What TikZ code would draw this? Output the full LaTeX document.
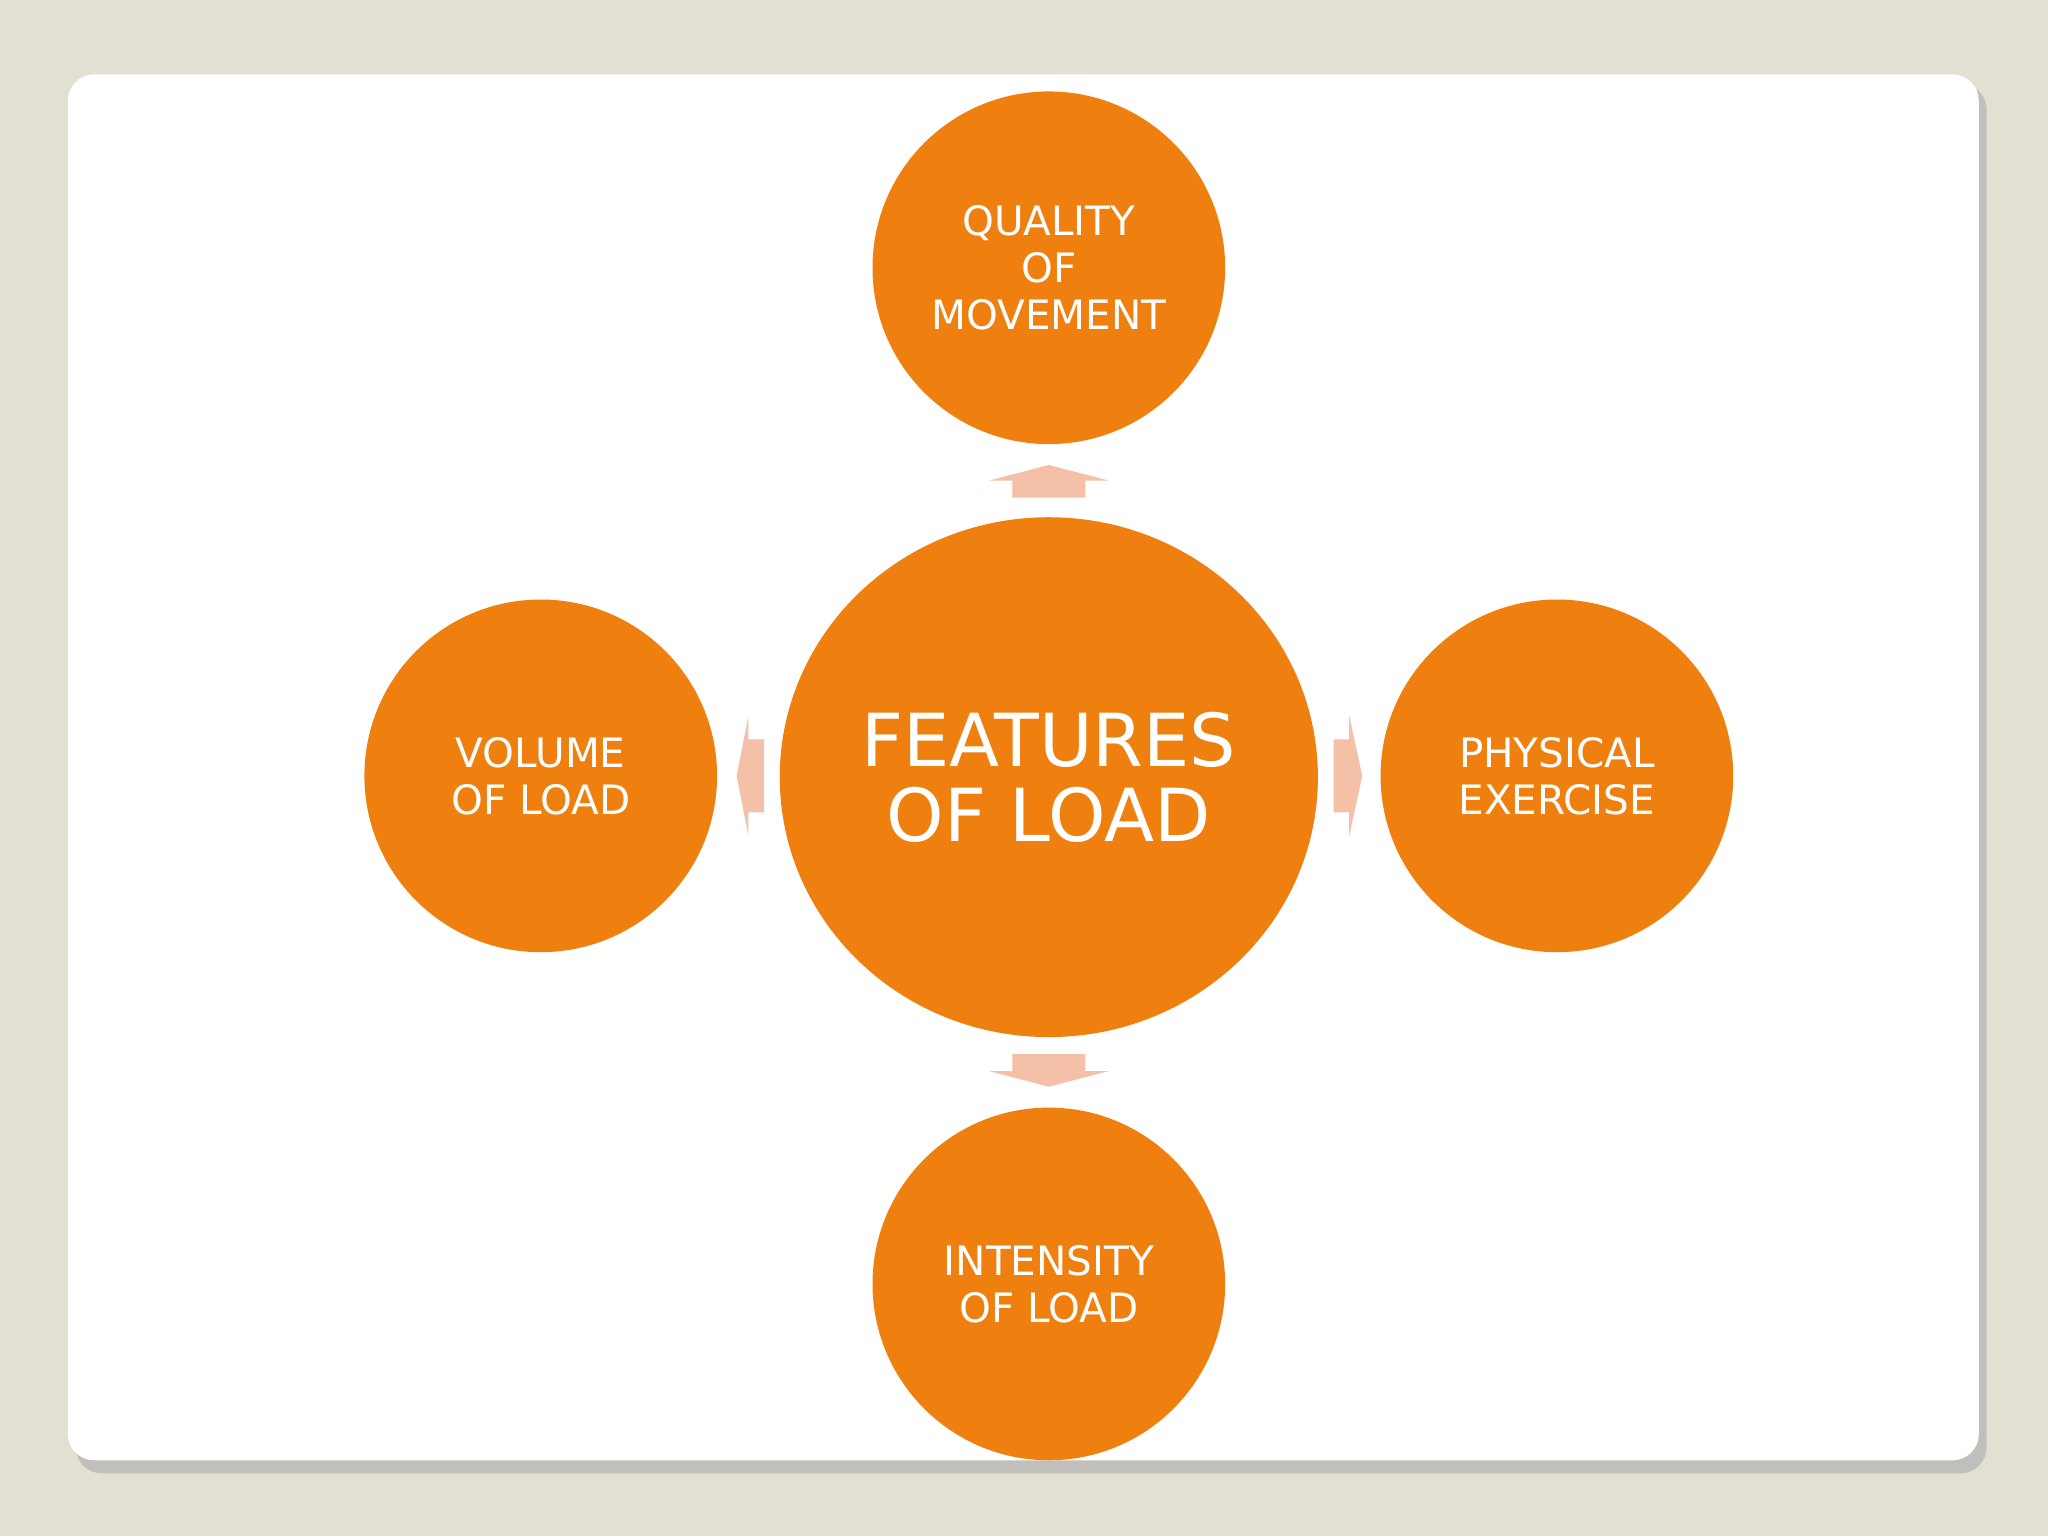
\documentclass[tikz,border=0pt]{standalone}
\usepackage{fontspec}
\setmainfont{DejaVu Sans}
\begin{document}
\begin{tikzpicture}[x=1pt,y=-1pt,
  orb/.style={fill=orange1,draw=none},
  lab/.style={text=white,align=center,font=\fontsize{31}{36}\selectfont},
  arr/.style={fill=salmon1,draw=none}]
\definecolor{bg}{HTML}{E2DFD3}
\definecolor{orange1}{HTML}{EF7F0E}
\definecolor{salmon1}{HTML}{F4C0A8}
\fill[bg] (0,0) rectangle (1568,1176);
\useasboundingbox (0,0) rectangle (1568,1176);
\fill[gray!60,opacity=0.7] (58,64) [rounded corners=20] rectangle (1521,1128);
\fill[white,rounded corners=20] (52,57) rectangle (1515,1118);
% arrows
\fill[arr] (775,381) -- (775,368) -- (757,368) -- (803,356) -- (849,368) -- (831,368) -- (831,381) -- cycle;
\fill[arr] (775,807) -- (775,820) -- (757,820) -- (803,832) -- (849,820) -- (831,820) -- (831,807) -- cycle;
\fill[arr] (585,566) -- (573,566) -- (573,548) -- (564,594) -- (573,640) -- (573,622) -- (585,622) -- cycle;
\fill[arr] (1021,566) -- (1033,566) -- (1033,548) -- (1043,594) -- (1033,640) -- (1033,622) -- (1021,622) -- cycle;
% circles
\fill[orb] (803,595) ellipse [x radius=206, y radius=199];
\node[lab,font=\fontsize{56}{57}\selectfont] (c) at (803,595) {FEATURES\\OF LOAD};
\fill[orb] (803,205) circle (135);
\node[lab] (t) at (803,205) {QUALITY\\OF\\MOVEMENT};
\fill[orb] (803,983) circle (135);
\node[lab] (b) at (803,983) {INTENSITY\\OF LOAD};
\fill[orb] (414,594) circle (135);
\node[lab] (l) at (414,594) {VOLUME\\OF LOAD};
\fill[orb] (1192,594) circle (135);
\node[lab] (r) at (1192,594) {PHYSICAL\\EXERCISE};
\end{tikzpicture}
\end{document}
